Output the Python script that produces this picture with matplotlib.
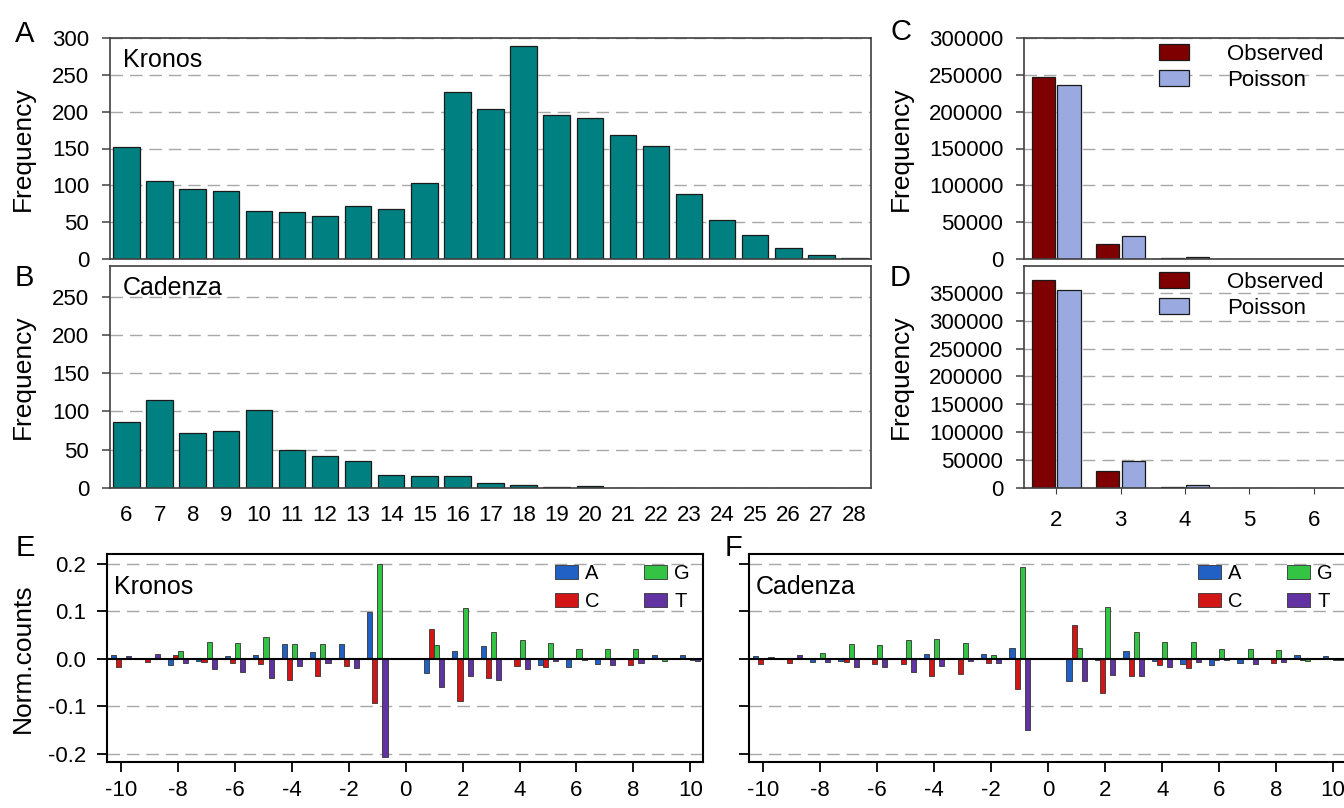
import matplotlib
matplotlib.use("Agg")
import matplotlib.pyplot as plt
import numpy as np

plt.rcParams['font.family'] = ['Liberation Sans', 'DejaVu Sans']

# ---------------- data ----------------
lengths = list(range(6, 29))
kronos_freq = [152, 106.5, 95, 92, 65.5, 64, 59, 72, 68, 103, 227, 203, 289,
               195, 191, 168, 153, 88, 53, 32, 15, 5, 1]
cadenza_freq = [86, 115, 72.5, 74, 102, 49.5, 41.5, 35, 17, 16, 16, 6.5, 4,
                1.5, 2.5, 0, 0, 0, 0, 0, 0, 0, 0]

copies = [2, 3, 4, 5, 6]
kronos_observed = [247000, 20800, 1800, 100, 0]
kronos_poisson = [236800, 31600, 2300, 100, 0]
cadenza_observed = [372800, 30100, 2400, 150, 0]
cadenza_poisson = [354800, 48100, 4800, 300, 10]

positions = list(range(-10, 11))
kronos_A = [0.007, 0.0, -0.013, -0.005, 0.006, 0.007, 0.030, 0.015, 0.030, 0.098, 0,
            -0.030, 0.016, 0.027, 0.002, -0.013, -0.017, -0.012, 0.0, 0.007, 0.007]
kronos_C = [-0.017, -0.007, 0.008, -0.007, -0.010, -0.012, -0.045, -0.036, -0.015, -0.092, 0,
            0.062, -0.089, -0.041, -0.016, -0.017, 0.0, 0.002, -0.014, 0.0, 0.0]
kronos_G = [0.002, 0.0, 0.017, 0.035, 0.032, 0.045, 0.031, 0.031, 0.002, 0.200, 0,
            0.028, 0.107, 0.057, 0.039, 0.034, 0.020, 0.020, 0.020, -0.005, -0.002]
kronos_T = [0.005, 0.010, -0.010, -0.022, -0.028, -0.041, -0.015, -0.010, -0.020, -0.206, 0,
            -0.059, -0.036, -0.045, -0.022, -0.005, -0.002, -0.014, -0.008, 0.0, -0.005]

cadenza_A = [0.005, 0.002, -0.007, -0.005, 0.0, 0.0, 0.010, 0.002, 0.010, 0.022, 0,
             -0.047, -0.002, 0.016, -0.005, -0.011, -0.013, -0.009, 0.0, 0.007, 0.005]
cadenza_C = [-0.012, -0.009, 0.002, -0.007, -0.012, -0.012, -0.036, -0.032, -0.010, -0.063, 0,
             0.071, -0.072, -0.036, -0.013, -0.020, -0.003, 0.002, -0.010, -0.002, 0.0]
cadenza_G = [0.002, 0.0, 0.012, 0.030, 0.028, 0.039, 0.041, 0.032, 0.007, 0.192, 0,
             0.022, 0.109, 0.057, 0.036, 0.036, 0.020, 0.020, 0.018, -0.005, -0.002]
cadenza_T = [0.003, 0.007, -0.007, -0.017, -0.017, -0.028, -0.015, -0.005, -0.010, -0.150, 0,
             -0.047, -0.034, -0.036, -0.017, -0.007, -0.002, -0.012, -0.007, 0.0, -0.003]

bases = ['A', 'C', 'G', 'T']

# ---------------- style ----------------
W, H = 1344, 808
TEAL = '#008080'
OBS = '#7f0000'
POI = '#9aa9e0'
BASE_COLORS = {'A': '#2160c4', 'C': '#d41515', 'G': '#33c444', 'T': '#6232a2'}
GRID = dict(color='#a8a8a8', linewidth=1.0, dashes=(9, 5))
TICK_FS = 16
LAB_FS = 19
LET_FS = 21
NAME_FS = 18

fig = plt.figure(figsize=(W / 100, H / 100), dpi=100)


def px_axes(left, top, right, bottom):
    return fig.add_axes([left / W, 1 - bottom / H, (right - left) / W, (bottom - top) / H])


def style_freq_axes(ax):
    for s in ax.spines.values():
        s.set_color('#404040')
        s.set_linewidth(1.2)
    ax.tick_params(axis='y', direction='out', length=6, width=1.1, color='#404040',
                   labelsize=TICK_FS, pad=9)
    ax.set_axisbelow(True)


# ---- Panel A / B ----
axA = px_axes(110, 38, 871, 259)
axB = px_axes(110, 266, 871, 488)
for ax, vals, name, ymax, yt in [(axA, kronos_freq, 'Kronos', 300, range(0, 301, 50)),
                                 (axB, cadenza_freq, 'Cadenza', 290, range(0, 251, 50))]:
    ax.bar(lengths, vals, width=0.8, color=TEAL, edgecolor='#1a1a1a', linewidth=0.9, zorder=2)
    ax.set_xlim(5.5, 28.5)
    ax.set_ylim(0, ymax)
    ax.set_yticks(list(yt))
    for v in yt:
        if v != 0:
            ax.axhline(v, zorder=0, **GRID)
    style_freq_axes(ax)
    ax.set_ylabel('Frequency', fontsize=LAB_FS)
    ax.yaxis.set_label_coords(-0.099, 0.5)
    ax.text(0.017, 0.955, name, transform=ax.transAxes, fontsize=NAME_FS, va='top', ha='left')
axA.set_xticks([])
axB.set_xticks(lengths)
axB.tick_params(axis='x', length=0, labelsize=TICK_FS, pad=12)

# ---- Panel C / D ----
axC = px_axes(1024, 38, 1346, 259)
axD = px_axes(1024, 266, 1346, 488)
bw = 0.36
for ax, obs, poi, ymax, yt in [(axC, kronos_observed, kronos_poisson, 300000, range(0, 300001, 50000)),
                               (axD, cadenza_observed, cadenza_poisson, 398000, range(0, 350001, 50000))]:
    x = np.array(copies, dtype=float)
    ax.bar(x - bw / 2 - 0.02, obs, width=bw, color=OBS, edgecolor='#1a1a1a', linewidth=0.9,
           label='Observed', zorder=2)
    ax.bar(x + bw / 2 + 0.02, poi, width=bw, color=POI, edgecolor='#1a1a1a', linewidth=0.9,
           label='Poisson', zorder=2)
    ax.set_xlim(1.5, 6.5)
    ax.set_ylim(0, ymax)
    ax.set_yticks(list(yt))
    for v in yt:
        if v != 0:
            ax.axhline(v, zorder=0, **GRID)
    style_freq_axes(ax)
    ax.set_ylabel('Frequency', fontsize=LAB_FS)
    ax.yaxis.set_label_coords(-0.344, 0.5)
    ax.legend(loc='upper left', bbox_to_anchor=(0.42, 0.975), frameon=False, fontsize=16,
              handlelength=1.35, handleheight=0.75, handletextpad=1.7, labelspacing=0.25,
              borderpad=0, borderaxespad=0)
axC.set_xticks([])
axD.set_xticks(copies)
axD.tick_params(axis='x', direction='out', length=4, labelsize=TICK_FS, pad=12, color='#404040')

# ---- Panel E / F ----
axE = px_axes(107, 554, 703, 762)
axF = px_axes(749, 554, 1346, 762)
wb = 0.18
offsets = {'A': -1.5 * wb, 'C': -0.5 * wb, 'G': 0.5 * wb, 'T': 1.5 * wb}
for ax, data, name in [(axE, {'A': kronos_A, 'C': kronos_C, 'G': kronos_G, 'T': kronos_T}, 'Kronos'),
                       (axF, {'A': cadenza_A, 'C': cadenza_C, 'G': cadenza_G, 'T': cadenza_T}, 'Cadenza')]:
    p = np.array(positions, dtype=float)
    for b in bases:
        ax.bar(p + offsets[b], data[b], width=wb, color=BASE_COLORS[b], edgecolor='#333333',
               linewidth=0.6, label=b, zorder=2)
    ax.set_xlim(-10.5, 10.45)
    ax.set_ylim(-0.217, 0.22)
    yt = [-0.2, -0.1, 0.0, 0.1, 0.2]
    ax.set_yticks(yt)
    ax.set_yticklabels(['-0.2', '-0.1', '0.0', '0.1', '0.2'])
    for v in yt:
        if v != 0:
            ax.axhline(v, zorder=0, **GRID)
    ax.axhline(0, color='black', linewidth=1.5, zorder=3)
    xt = list(range(-10, 11, 2))
    ax.set_xticks(xt)
    ax.set_xticklabels([str(v) for v in xt])
    for s in ax.spines.values():
        s.set_color('black')
        s.set_linewidth(1.5)
    ax.tick_params(direction='out', length=7, width=1.3, labelsize=TICK_FS)
    ax.tick_params(axis='y', pad=8)
    ax.tick_params(axis='x', pad=6)
    ax.set_axisbelow(True)
    ax.text(0.011, 0.9, name, transform=ax.transAxes, fontsize=NAME_FS, va='top', ha='left')
    ax.legend(loc='upper left', bbox_to_anchor=(0.752, 0.952), ncol=2, frameon=False,
              fontsize=14.5, handlelength=1.15, handleheight=0.75, handletextpad=0.35,
              columnspacing=2.2, labelspacing=0.45, borderpad=0, borderaxespad=0)
axE.set_ylabel('Norm.counts', fontsize=LAB_FS)
axE.yaxis.set_label_coords(-0.121, 0.5)
axF.tick_params(axis='y', labelleft=False)

# ---- panel letters ----
for letter, x, y in [('A', 15, 20), ('B', 15, 264), ('C', 890, 18), ('D', 890, 264),
                     ('E', 16, 534), ('F', 725, 534)]:
    fig.text(x / W, 1 - y / H, letter, fontsize=LET_FS, va='top', ha='left')

fig.savefig('out.png', dpi=100)
